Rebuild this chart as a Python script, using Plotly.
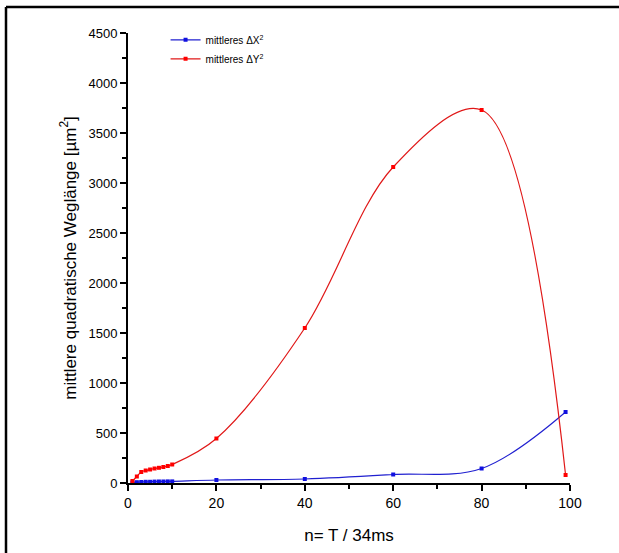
import plotly.graph_objects as go

n_vals = [1, 2, 3, 4, 5, 6, 7, 8, 9, 10, 20, 40, 60, 80, 99]
dx2 = [5, 8, 10, 12, 12, 14, 15, 15, 16, 16, 30, 40, 85, 145, 710]
dy2 = [20, 65, 110, 125, 135, 145, 152, 160, 170, 185, 445, 1550, 3160, 3730, 80]

x_ticks = [0, 20, 40, 60, 80, 100]
y_ticks = [0, 500, 1000, 1500, 2000, 2500, 3000, 3500, 4000, 4500]

narrow = "Liberation Sans Narrow, Arial Narrow, Liberation Sans, Arial"
fig = go.Figure()
fig.add_trace(go.Scatter(
    x=n_vals, y=dx2, mode="lines+markers", name="mittleres ΔX<sup>2</sup>",
    line=dict(color="#2020d0", width=1.2, shape="spline", smoothing=1.0),
    marker=dict(symbol="square", size=4, color="#1010e0"),
))
fig.add_trace(go.Scatter(
    x=n_vals, y=dy2, mode="lines+markers", name="mittleres ΔY<sup>2</sup>",
    line=dict(color="#e01818", width=1.2, shape="spline", smoothing=1.0),
    marker=dict(symbol="square", size=4, color="#ff0000"),
))

# frame edges (left and top only, in screen pixels converted to paper coords)
fx0 = (6 - 128) / 442
fx1 = (625 - 128) / 442
fy_top = (553 - 7 - 70) / 450
fy_bot = (553 - 560 - 70) / 450

fig.update_layout(
    width=619, height=553,
    margin=dict(l=128, r=49, t=33, b=70),
    paper_bgcolor="white", plot_bgcolor="white",
    font=dict(family=narrow, color="black", size=13),
    legend=dict(x=0.085, y=1.017, xanchor="left", yanchor="top",
                bgcolor="rgba(0,0,0,0)", font=dict(size=10, family=narrow),
                itemwidth=30, tracegroupgap=0),
    showlegend=True,
    xaxis=dict(
        range=[0, 100], tickvals=x_ticks, ticktext=[str(v) for v in x_ticks],
        showgrid=False, zeroline=False, showline=True, linecolor="black", linewidth=2,
        ticks="outside", ticklen=6, tickwidth=2, tickcolor="black",
        minor=dict(dtick=10, ticks="outside", ticklen=4, tickwidth=1.5, tickcolor="black", showgrid=False),
        tickfont=dict(size=14, family=narrow),
        title=dict(text="n= T / 34ms", font=dict(size=17, family="Liberation Sans, Arial"), standoff=19),
    ),
    yaxis=dict(
        range=[0, 4500], tickvals=y_ticks, ticktext=[str(v) for v in y_ticks],
        showgrid=False, zeroline=False, showline=True, linecolor="black", linewidth=2,
        ticks="outside", ticklen=6, tickwidth=2, tickcolor="black",
        minor=dict(dtick=250, ticks="outside", ticklen=4, tickwidth=1.5, tickcolor="black", showgrid=False),
        tickfont=dict(size=13, family=narrow),
        title=dict(text="mittlere quadratische Weglänge [µm<sup>2</sup>]",
                   font=dict(size=17, family="Liberation Sans, Arial"), standoff=8),
    ),
    shapes=[
        dict(type="line", xref="paper", yref="paper", x0=fx0, x1=fx1, y0=fy_top, y1=fy_top,
             line=dict(color="black", width=2.5), layer="above"),
        dict(type="line", xref="paper", yref="paper", x0=fx0, x1=fx0, y0=fy_bot, y1=fy_top,
             line=dict(color="black", width=2.5), layer="above"),
    ],
)

fig.write_html("out.html", config={"displayModeBar": False},
               post_script="document.body.style.margin='0px';")
